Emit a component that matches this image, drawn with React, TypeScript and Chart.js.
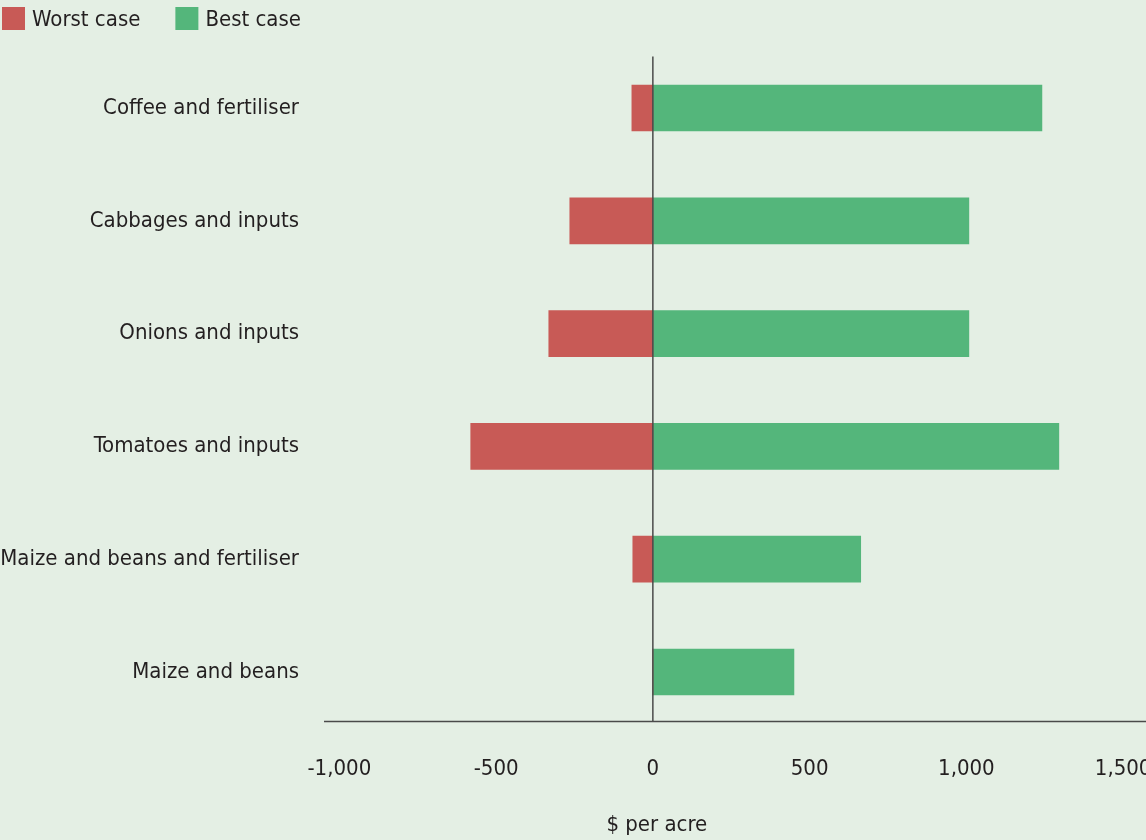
import React, { useEffect, useRef } from "react";
import { Chart, registerables } from "chart.js";

Chart.register(...registerables);

const categories = [
  "Coffee and fertiliser",
  "Cabbages and inputs",
  "Onions and inputs",
  "Tomatoes and inputs",
  "Maize and beans and fertiliser",
  "Maize and beans",
];
const worstCase = [-67, -265, -332, -581, -64, 0];
const bestCase = [1241, 1008, 1008, 1295, 663, 450];
const seriesNames = ["Worst case", "Best case"];
const seriesColors = ["#c85a56", "#54b67b"];
const tickValues = [-1000, -500, 0, 500, 1000, 1500];
const axisTitle = "$ per acre";

const FONT = '"Liberation Sans Narrow", "Arial Narrow", "DejaVu Sans Condensed", sans-serif';
const FS = 22;
const TEXT = "#231f20";
const BG = "#e4efe4";

const legendPlugin = {
  id: "customLegend",
  afterDraw(chart: any) {
    const ctx = chart.ctx;
    ctx.save();
    ctx.font = `${FS}px ${FONT}`;
    ctx.textBaseline = "middle";
    ctx.textAlign = "left";
    let x = 2;
    chart.data.datasets.forEach((ds: any) => {
      ctx.fillStyle = ds.backgroundColor;
      ctx.fillRect(x, 7, 23, 23);
      ctx.fillStyle = TEXT;
      const tx = x + 30;
      ctx.fillText(ds.label, tx, 20);
      x = tx + ctx.measureText(ds.label).width + 35;
    });
    ctx.restore();
  },
};

const linesPlugin = {
  id: "axisLines",
  afterDatasetsDraw(chart: any) {
    const ctx = chart.ctx;
    const xs = chart.scales.x;
    const area = chart.chartArea;
    const axisY = area.bottom - 7;
    ctx.save();
    ctx.strokeStyle = "#4a4a4a";
    ctx.lineWidth = 1.5;
    const zx = xs.getPixelForValue(0);
    ctx.beginPath();
    ctx.moveTo(zx, area.top + 5);
    ctx.lineTo(zx, axisY);
    ctx.stroke();
    ctx.beginPath();
    ctx.moveTo(area.left, axisY);
    ctx.lineTo(area.right, axisY);
    ctx.stroke();
    ctx.fillStyle = TEXT;
    ctx.font = `${FS}px ${FONT}`;
    ctx.textAlign = "center";
    ctx.textBaseline = "middle";
    ctx.fillText(axisTitle, zx + 4, 825);
    ctx.restore();
  },
};

const bgPlugin = {
  id: "bg",
  beforeDraw(chart: any) {
    const ctx = chart.ctx;
    ctx.save();
    ctx.fillStyle = BG;
    ctx.fillRect(0, 0, chart.width, chart.height);
    ctx.restore();
  },
};

export default function App() {
  const ref = useRef<HTMLCanvasElement>(null);
  useEffect(() => {
    document.body.style.margin = "0";
    document.body.style.background = BG;
    const chart = new Chart(ref.current!, {
      type: "bar",
      data: {
        labels: categories,
        datasets: [
          { label: seriesNames[0], data: worstCase, backgroundColor: seriesColors[0], barThickness: 46 },
          { label: seriesNames[1], data: bestCase, backgroundColor: seriesColors[1], barThickness: 46 },
        ],
      },
      options: {
        indexAxis: "y",
        animation: false,
        responsive: false,
        maintainAspectRatio: false,
        layout: { padding: { top: 51.6, left: 0, right: 0, bottom: 0 } },
        plugins: { legend: { display: false }, tooltip: { enabled: false } },
        scales: {
          x: {
            stacked: true,
            min: -1049,
            max: 1573,
            grid: { display: false },
            border: { display: false },
            afterBuildTicks(scale: any) {
              scale.ticks = tickValues.map((v) => ({ value: v }));
            },
            ticks: {
              padding: 20,
              color: TEXT,
              font: { family: FONT, size: FS },
              maxRotation: 0,
              autoSkip: false,
              callback: (v: any) => Number(v).toLocaleString("en-US"),
            },
            afterFit(scale: any) {
              scale.height = 111.6;
              scale.paddingLeft = 0;
              scale.paddingRight = 0;
            },
          },
          y: {
            stacked: true,
            grid: { display: false },
            border: { display: false },
            ticks: {
              padding: 17,
              color: TEXT,
              font: { family: FONT, size: FS },
              autoSkip: false,
            },
            afterFit(scale: any) {
              scale.width = 324;
              scale.paddingTop = 0;
              scale.paddingBottom = 0;
            },
          },
        },
      },
      plugins: [bgPlugin, linesPlugin, legendPlugin],
    });
    return () => chart.destroy();
  }, []);
  return (
    <div style={{ position: "absolute", left: 0, top: 0, width: 1146, height: 840, background: BG }}>
      <canvas ref={ref} width={1146} height={840} style={{ width: 1146, height: 840, display: "block" }} />
    </div>
  );
}
